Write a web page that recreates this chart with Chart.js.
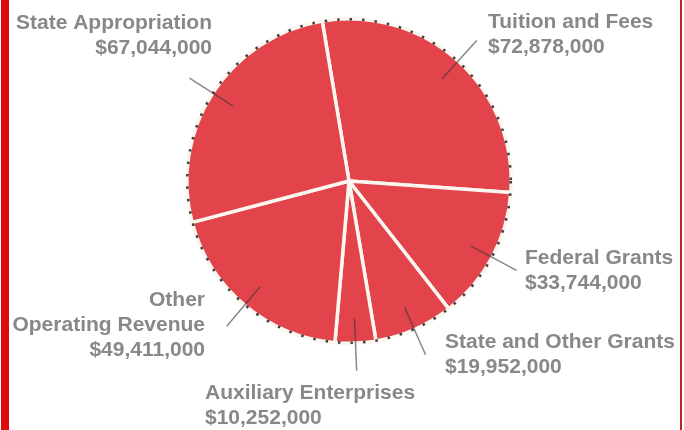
<!DOCTYPE html>
<html>
<head>
<meta charset="utf-8">
<script src="https://cdn.jsdelivr.net/npm/chart.js@4/dist/chart.umd.min.js"></script>
<style>
  body { margin: 0; background: #fff; }
  #wrap { position: relative; width: 684px; height: 430px; }
  #barL { position: absolute; left: 1px; top: 0; width: 8px; height: 430px; background: #df0b0e; }
  #barR { position: absolute; left: 680px; top: 0; width: 2px; height: 430px; background: #b8262b; }
</style>
</head>
<body>
<div id="wrap">
  <canvas id="pie" width="684" height="430"></canvas>
  <div id="barL"></div>
  <div id="barR"></div>
</div>
<script>
// revenue sources, clockwise from the top
var categories = ['Tuition and Fees', 'Federal Grants', 'State and Other Grants',
                  'Auxiliary Enterprises', ['Other', 'Operating Revenue'], 'State Appropriation'];
var amounts = [72878000, 33744000, 19952000, 10252000, 49411000, 67044000];

// where each label block sits
var labelPos = [
    {x: 488, y: 22, align: 'left'},
    {x: 525, y: 258, align: 'left'},
    {x: 445, y: 342, align: 'left'},
    {x: 205, y: 393, align: 'left'},
    {x: 205, y: 300, align: 'right'},
    {x: 212, y: 23, align: 'right'}
];

function money(v) {
    return '$' + v.toLocaleString('en-US');
}

var callouts = {
    id: 'callouts',
    afterDatasetsDraw: function (chart) {
        var ctx = chart.ctx;
        var arcs = chart.getDatasetMeta(0).data;
        var cx = arcs[0].x, cy = arcs[0].y, r = arcs[0].outerRadius;

        // dotted rim
        ctx.save();
        ctx.beginPath();
        ctx.arc(cx, cy, r - 0.5, 0, Math.PI * 2);
        ctx.setLineDash([2.5, 10]);
        ctx.lineWidth = 2.6;
        ctx.strokeStyle = '#3f3f3f';
        ctx.stroke();
        ctx.restore();

        // leader lines
        ctx.save();
        ctx.strokeStyle = 'rgba(55,55,55,0.6)';
        ctx.lineWidth = 1.5;
        arcs.forEach(function (a) {
            var mid = (a.startAngle + a.endAngle) / 2;
            ctx.beginPath();
            ctx.moveTo(cx + Math.cos(mid) * r * 0.85, cy + Math.sin(mid) * r * 0.85);
            ctx.lineTo(cx + Math.cos(mid) * r * 1.17, cy + Math.sin(mid) * r * 1.17);
            ctx.stroke();
        });
        ctx.restore();

        // labels
        ctx.save();
        ctx.font = 'bold 21px "Liberation Sans", Arial, sans-serif';
        ctx.fillStyle = '#888888';
        ctx.textBaseline = 'middle';
        categories.forEach(function (c, i) {
            var lines = [].concat(c, money(amounts[i]));
            var p = labelPos[i];
            ctx.textAlign = p.align;
            lines.forEach(function (t, k) {
                ctx.fillText(t, p.x, p.y + k * 25);
            });
        });
        ctx.restore();
    }
};

new Chart(document.getElementById('pie'), {
    type: 'pie',
    data: {
        labels: categories,
        datasets: [{
            data: amounts,
            backgroundColor: '#e3434b',
            borderColor: '#fbf6f0',
            borderWidth: 3.5
        }]
    },
    options: {
        responsive: false,
        animation: false,
        events: [],
        rotation: -9.5,
        layout: { padding: { top: 17, bottom: 85, left: 14, right: 0 } },
        plugins: {
            legend: { display: false },
            tooltip: { enabled: false }
        }
    },
    plugins: [callouts]
});
</script>
</body>
</html>
